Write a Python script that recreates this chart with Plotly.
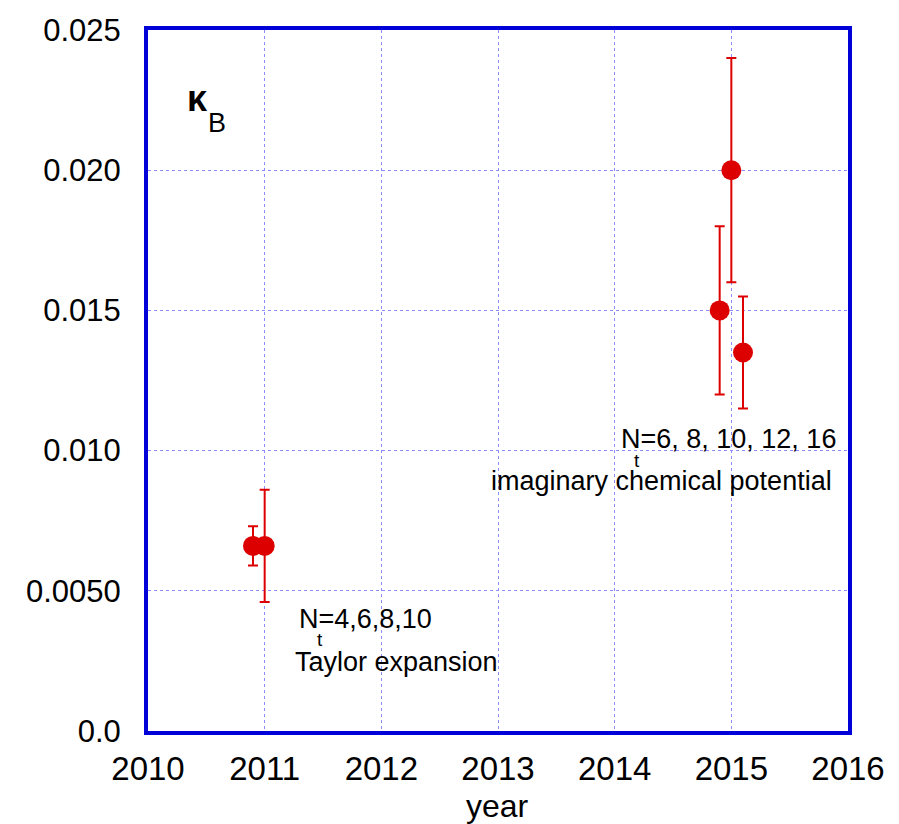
import plotly.graph_objects as go

# ---- data ----
years = [2010.9, 2011.0, 2014.9, 2015.0, 2015.1]
kappa_B = [0.0066, 0.0066, 0.015, 0.020, 0.0135]
kappa_err = [0.0007, 0.002, 0.003, 0.004, 0.002]

x_ticks = [2010, 2011, 2012, 2013, 2014, 2015, 2016]
x_ticktext = ["2010", "2011", "2012", "2013", "2014", "2015", "2016"]
y_ticks = [0.0, 0.005, 0.010, 0.015, 0.020, 0.025]
y_ticktext = ["0.0", "0.0050", "0.010", "0.015", "0.020", "0.025"]

W, H = 899, 824
ML, MR, MT, MB = 148, 51, 30, 93
PW, PH = W - ML - MR, H - MT - MB

def px(x):
    return (x - ML) / PW

def py(y):
    return (MT + PH - y) / PH

RED = "#dd0000"
BLUE = "#0000d8"
GRID = "#8c8cff"
FONT = "Liberation Sans, Arial, sans-serif"

fig = go.Figure()
fig.add_trace(go.Scatter(
    x=years, y=kappa_B, mode="markers",
    marker=dict(size=20, color=RED),
    error_y=dict(type="data", array=kappa_err, color=RED, thickness=2, width=5),
    showlegend=False,
))

ann = []
def add(text, x, y, size, anchor="left", bold=False):
    ann.append(dict(text=("<b>%s</b>" % text) if bold else text,
                    x=px(x), y=py(y), xref="paper", yref="paper",
                    xanchor=anchor, yanchor="middle", showarrow=False,
                    borderpad=0,
                    font=dict(size=size, color="black", family=FONT)))

add("κ", 186, 99, 36, bold=True)
add("B", 207, 123.5, 27)
add("N=4,6,8,10", 298, 619, 27)
add("t", 316, 639, 19)
add("Taylor expansion", 294, 662, 27)
add("N=6, 8, 10, 12, 16", 837, 439, 27, anchor="right")
add("t", 633, 460, 19)
add("imaginary chemical potential", 833, 481, 27, anchor="right")
add("year", 497, 806, 32, anchor="center")

fig.update_layout(
    width=W, height=H,
    margin=dict(l=ML, r=MR, t=MT, b=MB),
    paper_bgcolor="white", plot_bgcolor="white",
    font=dict(family=FONT, color="black"),
    annotations=ann,
    xaxis=dict(range=[2010, 2016], tickvals=x_ticks, ticktext=x_ticktext,
               showline=True, linecolor=BLUE, linewidth=4, mirror=True,
               showgrid=True, gridcolor=GRID, gridwidth=1, griddash="dot",
               zeroline=False, ticks="", ticklabelstandoff=5,
               tickfont=dict(size=33, family=FONT, color="black")),
    yaxis=dict(range=[0, 0.025], tickvals=y_ticks, ticktext=y_ticktext,
               showline=True, linecolor=BLUE, linewidth=4, mirror=True,
               showgrid=True, gridcolor=GRID, gridwidth=1, griddash="dot",
               zeroline=False, ticks="", ticklabelstandoff=17,
               tickfont=dict(size=31, family=FONT, color="black")),
)

fig.write_html("out.html")
